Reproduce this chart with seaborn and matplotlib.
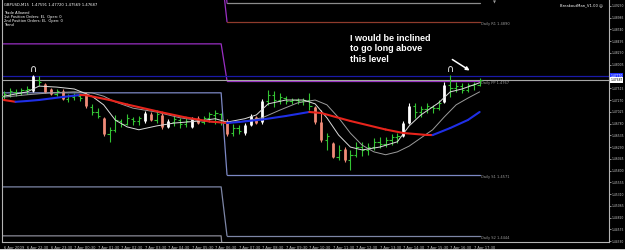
import numpy as np
import pandas as pd
import matplotlib
matplotlib.use("Agg")
import matplotlib.pyplot as plt
from matplotlib.patches import Rectangle
import seaborn as sns

# ------------------------------------------------------------------ data
symbol_line = "GBPUSD,M15  1.47591 1.47720 1.47569 1.47687"
ea_lines = ["Trade Allowed",
            "1st Position Orders: EL  Open: 0",
            "2nd Position Orders: EL  Open: 0",
            "Trend"]
ea_name = "BreakoutMan_V1.00 \u263a"
note_text = "I would be inclined\nto go long above\nthis level"

# 15-minute bars, 6 Apr 21:30 .. 7 Apr 17:45
bar_open = [1.4735, 1.4738, 1.4744, 1.4742, 1.4748, 1.4746, 1.4769, 1.4760, 1.4750, 1.4740,
            1.4746, 1.4729, 1.4733, 1.4735, 1.4740, 1.4713, 1.4702, 1.4690, 1.4656, 1.4665,
            1.4683, 1.4677, 1.4688, 1.4683, 1.4683, 1.4698, 1.4685, 1.4696, 1.4671, 1.4681,
            1.4685, 1.4677, 1.4671, 1.4690, 1.4681, 1.4690, 1.4696, 1.4698, 1.4683, 1.4658,
            1.4669, 1.4658, 1.4675, 1.4692, 1.4681, 1.4725, 1.4738, 1.4727, 1.4731, 1.4725,
            1.4727, 1.4725, 1.4727, 1.4713, 1.4681, 1.4644, 1.4638, 1.4608, 1.4625, 1.4602,
            1.4613, 1.4629, 1.4623, 1.4629, 1.4640, 1.4635, 1.4644, 1.4650, 1.4652, 1.4679,
            1.4715, 1.4702, 1.4708, 1.4713, 1.4710, 1.4723, 1.4758, 1.4752, 1.4756, 1.4748,
            1.4758, 1.47591]
bar_high = [1.4746, 1.4752, 1.4750, 1.4752, 1.4756, 1.4779, 1.4777, 1.4763, 1.4752, 1.4750,
            1.4750, 1.4740, 1.4742, 1.4740, 1.4744, 1.4719, 1.4710, 1.4692, 1.4671, 1.4696,
            1.4688, 1.4698, 1.4692, 1.4694, 1.4704, 1.4702, 1.4706, 1.4700, 1.4688, 1.4694,
            1.4690, 1.4692, 1.4692, 1.4694, 1.4694, 1.4702, 1.4706, 1.4700, 1.4688, 1.4677,
            1.4675, 1.4679, 1.4698, 1.4694, 1.4729, 1.4748, 1.4746, 1.4742, 1.4735, 1.4731,
            1.4731, 1.4731, 1.4742, 1.4715, 1.4706, 1.4658, 1.4640, 1.4633, 1.4629, 1.4623,
            1.4640, 1.4640, 1.4638, 1.4648, 1.4650, 1.4650, 1.4656, 1.4658, 1.4683, 1.4721,
            1.4721, 1.4715, 1.4721, 1.4717, 1.4727, 1.4765, 1.4779, 1.4765, 1.4763, 1.4763,
            1.4765, 1.47720]
bar_low = [1.4729, 1.4733, 1.4735, 1.4738, 1.4740, 1.4744, 1.4756, 1.4742, 1.4738, 1.4735,
           1.4727, 1.4723, 1.4727, 1.4725, 1.4710, 1.4696, 1.4690, 1.4652, 1.4640, 1.4660,
           1.4671, 1.4675, 1.4675, 1.4675, 1.4679, 1.4683, 1.4679, 1.4667, 1.4669, 1.4673,
           1.4669, 1.4671, 1.4669, 1.4677, 1.4677, 1.4681, 1.4677, 1.4675, 1.4652, 1.4652,
           1.4656, 1.4654, 1.4673, 1.4677, 1.4677, 1.4717, 1.4713, 1.4719, 1.4719, 1.4719,
           1.4719, 1.4717, 1.4706, 1.4677, 1.4640, 1.4623, 1.4606, 1.4602, 1.4598, 1.4581,
           1.4608, 1.4610, 1.4613, 1.4623, 1.4627, 1.4629, 1.4633, 1.4638, 1.4650, 1.4677,
           1.4690, 1.4692, 1.4700, 1.4700, 1.4706, 1.4721, 1.4733, 1.4744, 1.4742, 1.4744,
           1.4748, 1.47569]
bar_close = [1.4740, 1.4746, 1.4742, 1.4748, 1.4750, 1.4777, 1.4765, 1.4744, 1.4740, 1.4746,
             1.4729, 1.4735, 1.4738, 1.4731, 1.4715, 1.4702, 1.4694, 1.4656, 1.4665, 1.4685,
             1.4677, 1.4690, 1.4683, 1.4690, 1.4700, 1.4685, 1.4698, 1.4671, 1.4683, 1.4688,
             1.4677, 1.4683, 1.4688, 1.4679, 1.4690, 1.4698, 1.4700, 1.4681, 1.4656, 1.4669,
             1.4663, 1.4675, 1.4694, 1.4679, 1.4725, 1.4738, 1.4727, 1.4733, 1.4725, 1.4727,
             1.4725, 1.4727, 1.4715, 1.4681, 1.4644, 1.4652, 1.4608, 1.4623, 1.4602, 1.4613,
             1.4629, 1.4623, 1.4629, 1.4640, 1.4635, 1.4644, 1.4650, 1.4652, 1.4679, 1.4715,
             1.4702, 1.4708, 1.4715, 1.4710, 1.4721, 1.4758, 1.4752, 1.4756, 1.4748, 1.4758,
             1.4760, 1.47687]
# g = plain bar, r = bearish highlighted, w = bullish highlighted
bar_kind = list("gggggwgrrg" "rgggrggrgg" "ggggwrgrwg" "ggwrggggrg" "gwwrwggggg"
                "gggrrgrgrg" "ggggggggww" "gggggwgggg" "gg")

fractal_bars = [5, 76]

# thin moving averages (read at sample bars)
fast_ma_bars = [0, 4, 6, 9, 12, 15, 17, 19, 21, 23, 26, 29, 33, 36, 38, 41, 43, 45, 48, 51,
                53, 55, 57, 59, 61, 64, 67, 69, 71, 74, 76, 78, 81]
fast_ma = [1.4735, 1.4744, 1.4756, 1.4754, 1.4750, 1.4735, 1.4717, 1.4685, 1.4671, 1.4665,
           1.4673, 1.4679, 1.4683, 1.4688, 1.4681, 1.4688, 1.4696, 1.4719, 1.4727, 1.4727,
           1.4719, 1.4690, 1.4654, 1.4629, 1.4623, 1.4629, 1.4640, 1.4673, 1.4696, 1.4721,
           1.4744, 1.4750, 1.4763]
slow_ma_bars = [0, 4, 8, 12, 15, 17, 19, 22, 26, 30, 34, 38, 41, 44, 47, 50, 53, 55, 57, 59,
                61, 63, 65, 67, 69, 71, 73, 75, 77, 79, 81]
slow_ma = [1.4733, 1.4738, 1.4742, 1.4744, 1.4742, 1.4735, 1.4723, 1.4710, 1.4702, 1.4690,
           1.4683, 1.4679, 1.4683, 1.4690, 1.4706, 1.4721, 1.4727, 1.4717, 1.4690, 1.4658,
           1.4633, 1.4619, 1.4613, 1.4619, 1.4631, 1.4648, 1.4665, 1.4692, 1.4717, 1.4731,
           1.4744]
# thick trend average, coloured by direction
trend_ma_bars = [0, 2, 4, 6, 10, 13, 14, 18, 21, 27, 31, 35, 38, 40, 44, 48, 52, 54, 59, 65,
                 68, 72, 73, 76, 79, 81]
trend_ma = [1.47271, 1.47233, 1.47250, 1.47271, 1.47333, 1.47375, 1.47370, 1.47271, 1.47177,
            1.47010, 1.46906, 1.46823, 1.46792, 1.46812, 1.46864, 1.46937, 1.47021, 1.47000,
            1.46833, 1.46656, 1.46583, 1.46542, 1.46540, 1.46687, 1.46854, 1.47021]

# daily pivot buffers: value for 6 Apr session, value for 7 Apr session
pivot_names = ["R2", "R1", "PP", "S1", "S2", "S3"]
pivot_prev = [1.5060, 1.5000, 1.4844, 1.4742, 1.4546, 1.4444]
pivot_today = [1.4929, 1.4890, 1.4767, 1.4571, 1.4444, 1.4300]
pivot_labelled = ["R1", "PP", "S1", "S2"]
new_day_bar = 38

bid_price = 1.47687
entry_level = 1.47770

price_ticks = [1.44330, 1.44575, 1.44820, 1.45065, 1.45310, 1.45555, 1.45800, 1.46045,
               1.46290, 1.46535, 1.46780, 1.47025, 1.47270, 1.47515, 1.48005,
               1.48250, 1.48495, 1.48740, 1.48985, 1.49230]
time_tick_bars = [0, 4, 8, 12, 16, 20, 24, 28, 32, 36, 40, 44, 48, 52, 56, 60, 64, 68, 72,
                  76, 80]
time_labels = ["6 Apr 2009", "6 Apr 22:30", "6 Apr 23:30", "7 Apr 00:30", "7 Apr 01:30",
               "7 Apr 02:30", "7 Apr 03:30", "7 Apr 04:30", "7 Apr 05:30", "7 Apr 06:30",
               "7 Apr 07:30", "7 Apr 08:30", "7 Apr 09:30", "7 Apr 10:30", "7 Apr 11:30",
               "7 Apr 12:30", "7 Apr 13:30", "7 Apr 14:30", "7 Apr 15:30", "7 Apr 16:30",
               "7 Apr 17:30"]

# ------------------------------------------------------------------ style
sns.set_style("dark")
plt.rcParams["font.family"] = ["DejaVu Sans"]
W, H = 625, 250
fig = plt.figure(figsize=(W / 100, H / 100), dpi=100, facecolor="black")
ax = fig.add_axes([2 / W, 8 / H, 607 / W, 242 / H])
ax.set_facecolor("black")
ax.grid(False)

X0, X1 = -0.3, 103.02
Y0, Y1 = 1.44312, 1.49354
ax.set_xlim(X0, X1)
ax.set_ylim(Y0, Y1)

# pivot lines: previous session part (with the jump) and current session part
prev_colors = {"R2": "#9a2fc4", "R1": "#9a2fc4", "PP": "#9a2fc4", "S1": "#7c88c4",
               "S2": "#7d86a6", "S3": "#8a8a96"}
today_colors = {"R2": "#8c8c8c", "R1": "#8f3b2c", "PP": "#9a2fc4", "S1": "#7c88c4",
                "S2": "#7d86a6", "S3": "#8a8a96"}
last_bar = len(bar_close) - 1
for name, pv, td in zip(pivot_names, pivot_prev, pivot_today):
    df_prev = pd.DataFrame({"bar": [X0, new_day_bar - 1, new_day_bar],
                            "price": [pv, pv, td]})
    df_today = pd.DataFrame({"bar": [new_day_bar, last_bar], "price": [td, td]})
    sns.lineplot(data=df_prev, x="bar", y="price", ax=ax, color=prev_colors[name], lw=0.9,
                 estimator=None, sort=False, zorder=1)
    sns.lineplot(data=df_today, x="bar", y="price", ax=ax, color=today_colors[name], lw=0.9,
                 estimator=None, sort=False, zorder=1)
    if name in pivot_labelled:
        ax.text(last_bar + 0.3, td, f"Daily {name} {td:.4f}", fontsize=2.6, color="#9a9a9a",
                ha="left", va="top", zorder=6)
ax.text(last_bar + 2.6, 1.49354, "\u25bc", fontsize=2.8, color="#9a9a9a", ha="center",
        va="top", zorder=6)

# bid and entry lines
ax.axhline(entry_level, color="#1a1aa8", lw=0.9, zorder=2)
ax.axhline(bid_price, color="#a6a6a6", lw=0.8, zorder=2)

# price bars
idx = np.arange(len(bar_close))
o, h, l, c = (np.array(v) for v in (bar_open, bar_high, bar_low, bar_close))
kind = np.array(bar_kind)
kind_col = {"g": "#33c433", "r": "#f08b78", "w": "#ffffff"}
for k, col in kind_col.items():
    m = kind == k
    ax.vlines(idx[m], l[m], h[m], color=col, lw=0.8, zorder=3)
    if k == "g":
        ax.hlines(o[m], idx[m] - 0.4, idx[m], color=col, lw=0.8, zorder=3)
        ax.hlines(c[m], idx[m], idx[m] + 0.4, color=col, lw=0.8, zorder=3)
    else:
        ax.vlines(idx[m], np.minimum(o, c)[m], np.maximum(o, c)[m], color=col, lw=2.0,
                  zorder=3)

# thin averages
sns.lineplot(x=slow_ma_bars, y=slow_ma, ax=ax, color="#9c9c9c", lw=0.7, zorder=4)
sns.lineplot(x=fast_ma_bars, y=fast_ma, ax=ax, color="#dcdcdc", lw=0.7, zorder=4)

# thick trend average (blue rising, red falling)
tb, tv = np.array(trend_ma_bars), np.array(trend_ma)
for j in range(len(tb) - 1):
    col = "#1f2fe6" if tv[j + 1] > tv[j] else "#e8241c"
    ax.plot(tb[j:j + 2], tv[j:j + 2], color=col, lw=1.5, solid_capstyle="round", zorder=5)

# fractal marks
for b in fractal_bars:
    ax.annotate("\u2229", xy=(b, bar_high[b]), xytext=(0, 0.5), textcoords="offset points",
                ha="center", va="bottom", color="white", fontsize=7, zorder=6)

# axes / ticks
for s in ["left", "bottom", "right"]:
    ax.spines[s].set_color("#b4b4b4")
    ax.spines[s].set_linewidth(0.8)
ax.spines["top"].set_visible(False)
ax.yaxis.tick_right()
ax.set_yticks(price_ticks)
ax.set_yticklabels([f"{t:.5f}" for t in price_ticks], fontsize=2.15, color="#d8d8d8")
ax.set_xticks(time_tick_bars)
ax.set_xticklabels(time_labels, fontsize=2.6, color="#d8d8d8", ha="left")
ax.tick_params(axis="y", length=1.5, width=0.5, colors="#c8c8c8", pad=0.6)
ax.tick_params(axis="x", length=2, width=0.5, colors="#c8c8c8", pad=0.8)
ax.set_xlabel("")
ax.set_ylabel("")

# price boxes on the scale
ytr = ax.get_yaxis_transform()
ax.text(1.002, entry_level, f"{entry_level:.5f}", transform=ytr, fontsize=2.15, color="white",
        ha="left", va="center", clip_on=False, zorder=10,
        bbox=dict(boxstyle="square,pad=0.2", fc="#2233ff", ec="none"))
ax.text(1.002, bid_price, f"{bid_price:.5f}", transform=ytr, fontsize=2.15, color="black",
        ha="left", va="center", clip_on=False, zorder=10,
        bbox=dict(boxstyle="square,pad=0.2", fc="white", ec="none"))

# overlay texts
fig.text(4 / W, 1 - 5 / H, symbol_line, fontsize=2.7, color="white", va="center")
for n, t in enumerate(ea_lines):
    fig.text(4 / W, 1 - (13 + 4 * n) / H, t, fontsize=2.6, color="white", va="center")
fig.text(603 / W, 1 - 5 / H, ea_name, fontsize=2.7, color="white", va="center", ha="right")
fig.text(350 / W, 1 - 34 / H, note_text, fontsize=6.5, fontweight="bold",
         family=["Liberation Sans", "DejaVu Sans"], color="white", va="top", ha="left",
         linespacing=1.2)
ax.annotate("", xy=(472 / W, 1 - 72 / H), xytext=(450 / W, 1 - 58 / H),
            xycoords="figure fraction", textcoords="figure fraction",
            arrowprops=dict(arrowstyle="-|>", color="white", lw=1.1, mutation_scale=5))

fig.patches.append(Rectangle((0, 0), 1, 1.5 / H, transform=fig.transFigure,
                             facecolor="#d0d0d0", edgecolor="none"))

fig.savefig("out.png", dpi=100, facecolor="black")
